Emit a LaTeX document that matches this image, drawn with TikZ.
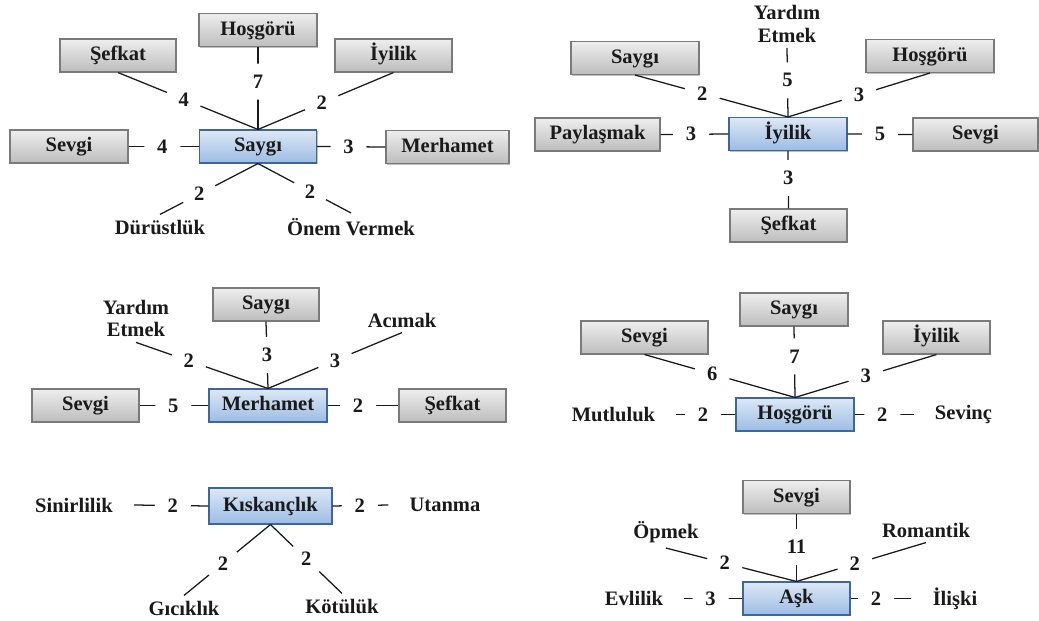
\documentclass[tikz,border=0pt]{standalone}
\usepackage{fontspec}
\setmainfont{Liberation Serif}
\usetikzlibrary{shadows}
\definecolor{gtop}{HTML}{EEEEEE}
\definecolor{gbot}{HTML}{BDBDBD}
\definecolor{gbord}{HTML}{7A7A7A}
\definecolor{btop}{HTML}{DDE8F5}
\definecolor{bbot}{HTML}{9CBCE4}
\definecolor{bbord}{HTML}{3F6699}
\definecolor{ink}{HTML}{1A1A1A}
\tikzset{
  every node/.style={font=\fontsize{15.4}{17}\selectfont\bfseries, text=ink},
  bw/.style={minimum width=#1*0.75pt},
  boxbase/.style={line width=0.8pt, minimum height=24.75pt, inner sep=0pt,
    text height=10pt, text depth=2.4pt,
    drop shadow={shadow xshift=1pt, shadow yshift=-1pt, opacity=0.25, fill=black}},
  gbox/.style={boxbase, draw=gbord, top color=gtop, bottom color=gbot},
  bbox/.style={boxbase, draw=bbord, top color=btop, bottom color=bbot},
  txt/.style={inner sep=0pt, outer xsep=16pt, outer ysep=4pt, align=center},
  lab/.style={circle, fill=white, inner sep=0pt, minimum size=27pt},
  link/.style={draw=ink, line width=0.95pt},
}
\begin{document}
\begin{tikzpicture}[x=0.75pt,y=-0.75pt]
\fill[white] (0,0) rectangle (1039,621);
\useasboundingbox (0,0) rectangle (1039,621);

% ---------- Diagram 1: Saygi ----------
\node[bbox,bw=117] (s1) at (258,146.5) {Saygı};
\node[gbox,bw=118] (s1hos) at (258,30) {Hoşgörü};
\node[gbox,bw=116] (s1sef) at (118,55.5) {Şefkat};
\node[gbox,bw=117] (s1iyi) at (393.5,55.5) {İyilik};
\node[gbox,bw=118] (s1sev) at (69,146.5) {Sevgi};
\node[gbox,bw=123] (s1mer) at (447.5,147) {Merhamet};
\node[txt] (s1dur) at (160,227) {Dürüstlük};
\node[txt] (s1one) at (351,227) {Önem Vermek};
\draw[link] (s1sef.south) -- node[lab,pos=0.47]{4} (s1.north);
\draw[link] (s1hos.south) -- node[lab,pos=0.42]{7} (s1.north);
\draw[link] (s1iyi.south) -- node[lab,pos=0.53]{2} (s1.north);
\draw[link] (s1sev.east) -- node[lab,pos=0.48]{4} (s1.west);
\draw[link] (s1.east) -- node[lab,pos=0.46]{3} (s1mer.west);
\draw[link] (s1.south) -- node[lab,pos=0.6]{2} (s1dur.north);
\draw[link] (s1.south) -- node[lab,pos=0.56]{2} (s1one.north);

% ---------- Diagram 2: Iyilik ----------
\node[bbox,bw=118] (s2) at (788,134) {İyilik};
\node[txt] (s2yar) at (787,24) {Yardım\\Etmek};
\node[gbox,bw=128] (s2say) at (635,58) {Saygı};
\node[gbox,bw=128] (s2hos) at (930,56) {Hoşgörü};
\node[gbox,bw=125] (s2pay) at (597.5,134.5) {Paylaşmak};
\node[gbox,bw=125] (s2sev) at (975.5,134.5) {Sevgi};
\node[gbox,bw=117] (s2sef) at (788.5,225.5) {Şefkat};
\draw[link] (s2yar.south) -- node[lab,pos=0.47]{5} (s2.north);
\draw[link] (s2say.south) -- node[lab,pos=0.44]{2} (s2.north);
\draw[link] (s2hos.south) -- node[lab,pos=0.5]{3} (s2.north);
\draw[link] (s2pay.east) -- node[lab,pos=0.45]{3} (s2.west);
\draw[link] (s2.east) -- node[lab,pos=0.5]{5} (s2sev.west);
\draw[link] (s2.south) -- node[lab,pos=0.47]{3} (s2sef.north);

% ---------- Diagram 3: Merhamet ----------
\node[bbox,bw=118] (s3) at (268,405.5) {Merhamet};
\node[txt] (s3yar) at (136,318.5) {Yardım\\Etmek};
\node[gbox,bw=106] (s3say) at (266,304.5) {Saygı};
\node[txt] (s3aci) at (402,320) {Acımak};
\node[gbox,bw=107] (s3sev) at (85.5,405.5) {Sevgi};
\node[gbox,bw=107] (s3sef) at (452.5,405.5) {Şefkat};
\draw[link] (s3yar.south) -- node[lab,pos=0.4]{2} (s3.north);
\draw[link] (s3say.south) -- node[lab,pos=0.5]{3} (s3.north);
\draw[link] (s3aci.south) -- node[lab,pos=0.5]{3} (s3.north);
\draw[link] (s3sev.east) -- node[lab,pos=0.49]{5} (s3.west);
\draw[link] (s3.east) -- node[lab,pos=0.43]{2} (s3sef.west);

% ---------- Diagram 4: Hosgoru ----------
\node[bbox,bw=118] (s4) at (795,414.5) {Hoşgörü};
\node[gbox,bw=108] (s4say) at (794,309.5) {Saygı};
\node[gbox,bw=127] (s4sev) at (644.5,337.5) {Sevgi};
\node[gbox,bw=107] (s4iyi) at (936.5,337.5) {İyilik};
\node[txt] (s4mut) at (613.5,414.5) {Mutluluk};
\node[txt] (s4sevi) at (963.5,414.5) {Sevinç};
\draw[link] (s4sev.south) -- node[lab,pos=0.45]{6} (s4.north);
\draw[link] (s4say.south) -- node[lab,pos=0.42]{7} (s4.north);
\draw[link] (s4iyi.south) -- node[lab,pos=0.5]{3} (s4.north);
\draw[link] (s4mut.east) -- node[lab,pos=0.45]{2} (s4.west);
\draw[link] (s4.east) -- node[lab,pos=0.47]{2} (s4sevi.west);

% ---------- Diagram 5: Kiskanclik ----------
\node[bbox,bw=123,minimum height=27pt] (s5) at (270.5,506) {Kıskançlık};
\node[txt] (s5sin) at (74,505) {Sinirlilik};
\node[txt] (s5uta) at (445,505) {Utanma};
\node[txt] (s5gic) at (184,608) {Gıcıklık};
\node[txt] (s5kot) at (342,606) {Kötülük};
\draw[link] (s5sin.east) -- node[lab,pos=0.52]{2} (s5.west);
\draw[link] (s5.east) -- node[lab,pos=0.49]{2} (s5uta.west);
\draw[link] (s5.south) -- node[lab,pos=0.55]{2} (s5gic.north);
\draw[link] (s5.south) -- node[lab,pos=0.5]{2} (s5kot.north);

% ---------- Diagram 6: Ask ----------
\node[bbox,bw=107] (s6) at (796.5,598.5) {Aşk};
\node[gbox,bw=107] (s6sev) at (796.5,497) {Sevgi};
\node[txt] (s6opm) at (666,532) {Öpmek};
\node[txt] (s6rom) at (926,530) {Romantik};
\node[txt] (s6evl) at (634,598.5) {Evlilik};
\node[txt] (s6ili) at (955,598.5) {İlişki};
\draw[link] (s6sev.south) -- node[lab,pos=0.49]{11} (s6.north);
\draw[link] (s6opm.south) -- node[lab,pos=0.45]{2} (s6.north);
\draw[link] (s6rom.south) -- node[lab,pos=0.55]{2} (s6.north);
\draw[link] (s6evl.east) -- node[lab,pos=0.45]{3} (s6.west);
\draw[link] (s6.east) -- node[lab,pos=0.42]{2} (s6ili.west);
\end{tikzpicture}
\end{document}
